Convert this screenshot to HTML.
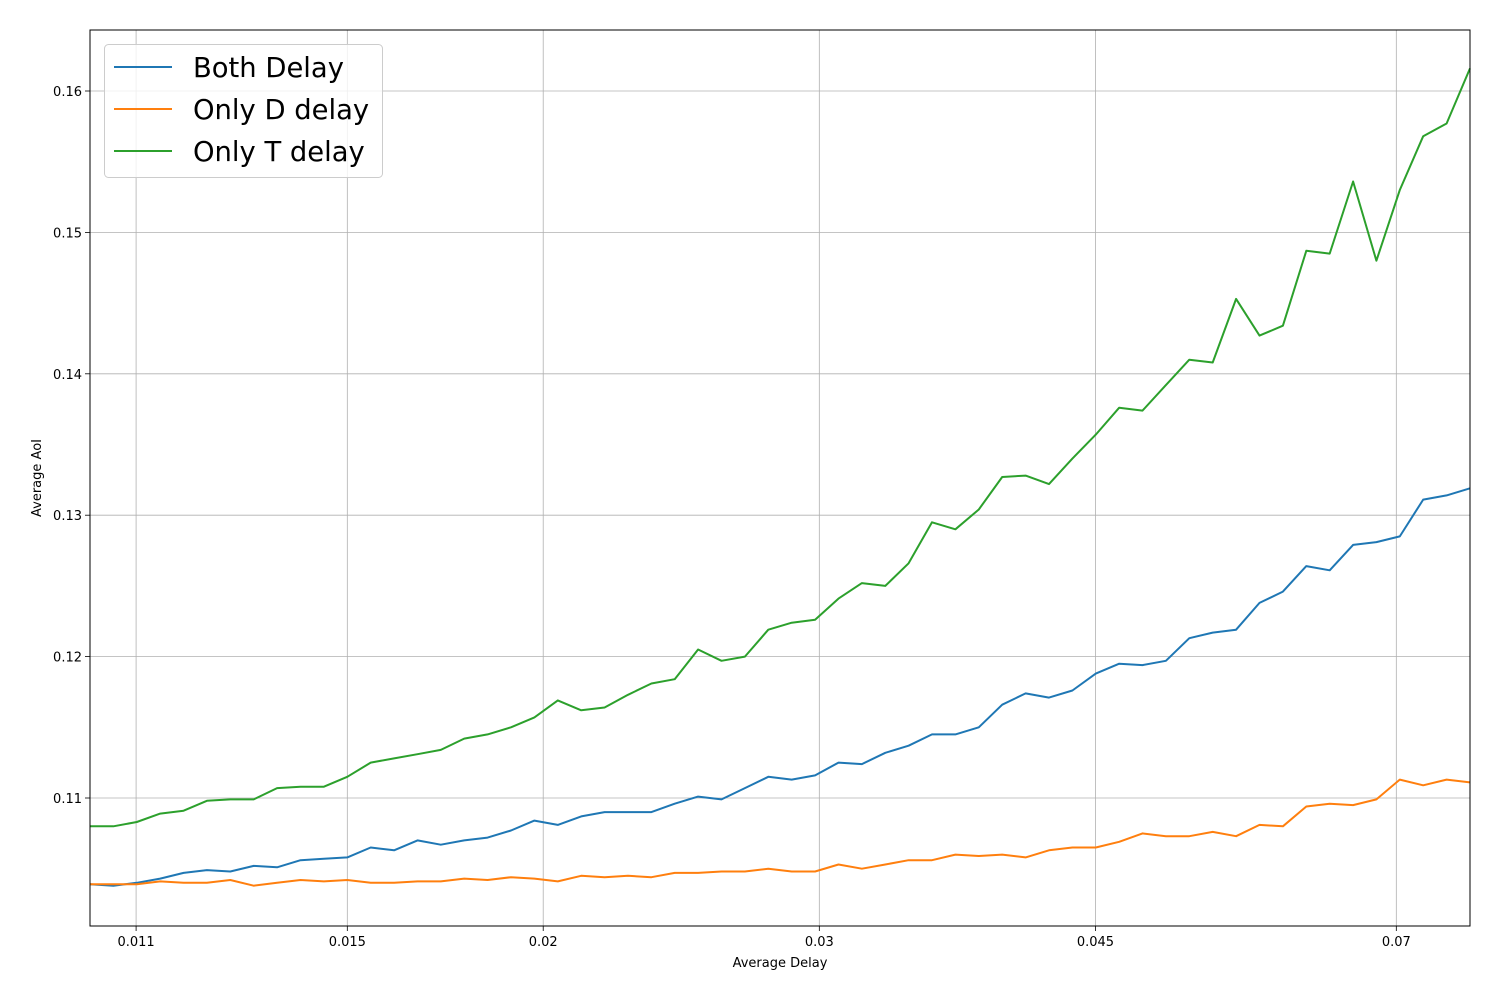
<!DOCTYPE html>
<html><head><meta charset="utf-8"><style>
html,body{margin:0;padding:0;background:#fff;}
svg text{font-family:"DejaVu Sans","Liberation Sans",sans-serif;}
</style></head><body>
<svg id="chart" width="1500" height="1000" xmlns="http://www.w3.org/2000/svg">
<rect x="0" y="0" width="1500" height="1000" fill="#fff"/>
<g id="grid"></g>
<g id="series"></g>
<rect x="90" y="30" width="1380" height="896" fill="none" stroke="#000" stroke-width="1"/>
<g id="ticks"></g>
<text x="780" y="967" font-size="13" text-anchor="middle">Average Delay</text>
<text x="41" y="478" font-size="13" text-anchor="middle" transform="rotate(-90 41 478)">Average AoI</text>
<g>
<rect x="104.5" y="44.5" width="278" height="133" rx="4" fill="#fff" fill-opacity="0.8" stroke="#ccc"/>
<g><line x1="114" y1="67" x2="172" y2="67" stroke="#1f77b4" stroke-width="2"/><text x="193" y="77" font-size="27.4">Both Delay</text></g>
<g><line x1="114" y1="109" x2="172" y2="109" stroke="#ff7f0e" stroke-width="2"/><text x="193" y="119" font-size="27.4">Only D delay</text></g>
<g><line x1="114" y1="151" x2="172" y2="151" stroke="#2ca02c" stroke-width="2"/><text x="193" y="161" font-size="27.4">Only T delay</text></g>
</g>
</svg>
<script>
const xTickValues=[0.011,0.015,0.02,0.03,0.045,0.07];
const xTickLabels=["0.011","0.015","0.02","0.03","0.045","0.07"];
const yTickValues=[0.11,0.12,0.13,0.14,0.15,0.16];
const yTickLabels=["0.11","0.12","0.13","0.14","0.15","0.16"];
const delayMin=0.01028, delayMax=0.0780;
const bothDelay=[.1039,.1038,.1040,.1043,.1047,.1049,.1048,.1052,.1051,.1056,.1057,.1058,.1065,.1063,.1070,.1067,.1070,.1072,.1077,.1084,.1081,.1087,.1090,.1090,.1090,.1096,.1101,.1099,.1107,.1115,.1113,.1116,.1125,.1124,.1132,.1137,.1145,.1145,.1150,.1166,.1174,.1171,.1176,.1188,.1195,.1194,.1197,.1213,.1217,.1219,.1238,.1246,.1264,.1261,.1279,.1281,.1285,.1311,.1314,.1319];
const onlyDDelay=[.1039,.1039,.1039,.1041,.1040,.1040,.1042,.1038,.1040,.1042,.1041,.1042,.1040,.1040,.1041,.1041,.1043,.1042,.1044,.1043,.1041,.1045,.1044,.1045,.1044,.1047,.1047,.1048,.1048,.1050,.1048,.1048,.1053,.1050,.1053,.1056,.1056,.1060,.1059,.1060,.1058,.1063,.1065,.1065,.1069,.1075,.1073,.1073,.1076,.1073,.1081,.1080,.1094,.1096,.1095,.1099,.1113,.1109,.1113,.1111];
const onlyTDelay=[.1080,.1080,.1083,.1089,.1091,.1098,.1099,.1099,.1107,.1108,.1108,.1115,.1125,.1128,.1131,.1134,.1142,.1145,.1150,.1157,.1169,.1162,.1164,.1173,.1181,.1184,.1205,.1197,.1200,.1219,.1224,.1226,.1241,.1252,.1250,.1266,.1295,.1290,.1304,.1327,.1328,.1322,.1340,.1357,.1376,.1374,.1392,.1410,.1408,.1453,.1427,.1434,.1487,.1485,.1536,.1480,.1530,.1568,.1577,.1616];
const L=90,R=1470,T=30,B=926;
function xScale(v){return L+(Math.log(v)-Math.log(delayMin))/(Math.log(delayMax)-Math.log(delayMin))*(R-L);}
function xIndex(i,n){return L+i*(R-L)/(n-1);}
function yScale(v){return 798-(v-0.11)*14140;}
const NS="http://www.w3.org/2000/svg";
const grid=document.getElementById('grid'),ticks=document.getElementById('ticks'),ser=document.getElementById('series');
function mk(tag,attrs,parent){const e=document.createElementNS(NS,tag);for(const k in attrs)e.setAttribute(k,attrs[k]);parent.appendChild(e);return e;}
xTickValues.forEach((v,i)=>{const x=xScale(v);
 const g=mk('line',{x1:x,x2:x,y1:T,y2:B,stroke:'#b0b0b0','stroke-width':0.8},grid);
 
 
 mk('line',{x1:x,x2:x,y1:B,y2:B+5,stroke:'#000','stroke-width':0.8},ticks);
 const t=mk('text',{x:x,y:B+20,'font-size':13,'text-anchor':'middle'},ticks);t.textContent=xTickLabels[i];
 
 
});
yTickValues.forEach((v,i)=>{const y=yScale(v);
 const g=mk('line',{x1:L,x2:R,y1:y,y2:y,stroke:'#b0b0b0','stroke-width':0.8},grid);
 
 
 mk('line',{x1:L-5,x2:L,y1:y,y2:y,stroke:'#000','stroke-width':0.8},ticks);
 const t=mk('text',{x:L-8,y:y+5,'font-size':13,'text-anchor':'end'},ticks);t.textContent=yTickLabels[i];
 
 
});
[[bothDelay,'#1f77b4','line-both-delay'],[onlyDDelay,'#ff7f0e','line-only-d-delay'],[onlyTDelay,'#2ca02c','line-only-t-delay']].forEach(([arr,c,name])=>{
 const pts=arr.map((v,i)=>xIndex(i,arr.length).toFixed(1)+','+yScale(v).toFixed(1)).join(' ');
 const p=mk('polyline',{points:pts,fill:'none',stroke:c,'stroke-width':2,'stroke-linejoin':'round'},ser);
 
 
});
</script>
</body></html>
